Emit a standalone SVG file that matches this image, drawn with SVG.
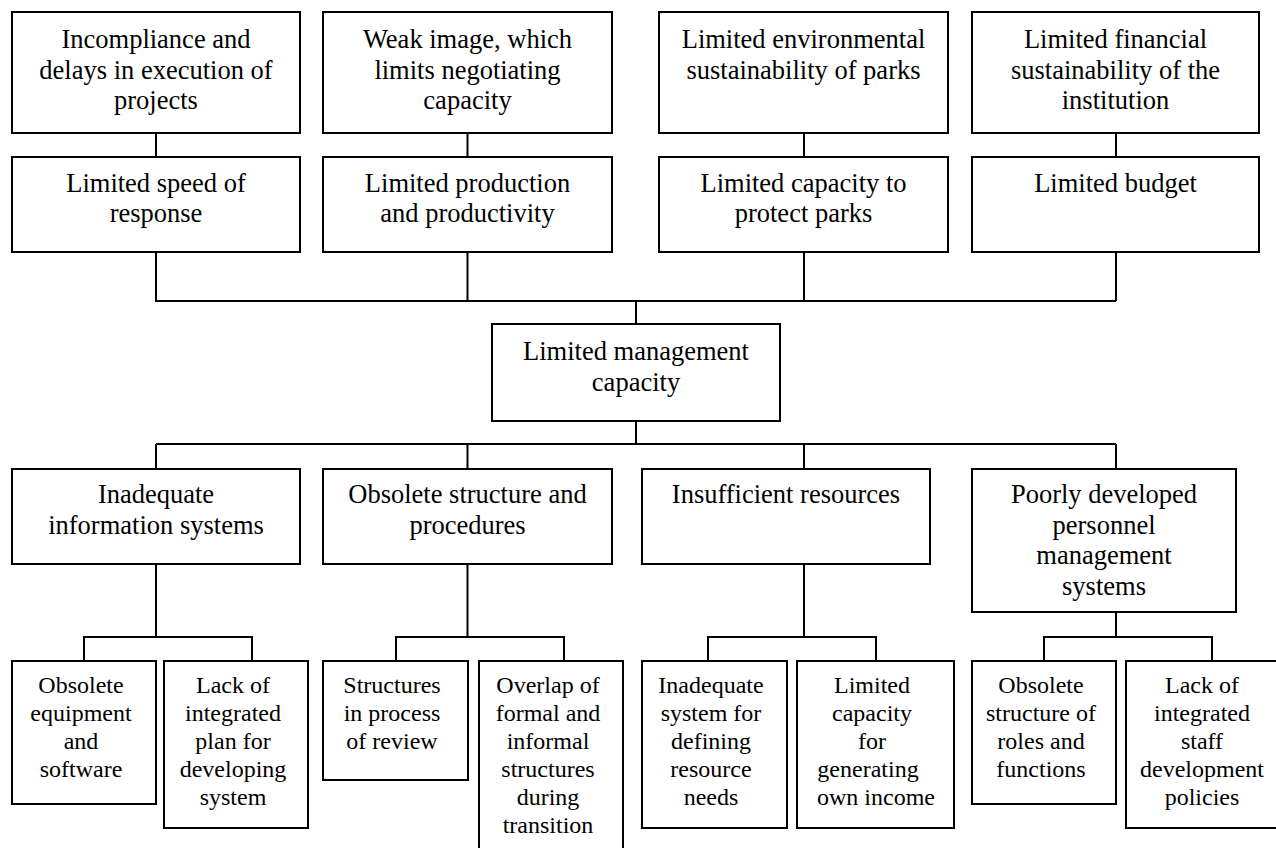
<svg xmlns="http://www.w3.org/2000/svg" width="1276" height="848" viewBox="0 0 1276 848">
<style>
rect{fill:#fff;stroke:#000;stroke-width:2}
#connectors path{fill:none;stroke:#000;stroke-width:2}
text{font-family:'Liberation Serif','Times New Roman','DejaVu Serif',serif;font-size:26.5px;fill:#000;text-anchor:middle}
text.s{font-size:24px}
</style>
<rect x="0" y="0" width="1276" height="848" style="stroke:none"/>
<g id="connectors">
<path d="M156 133V157M467.5 133V157M804 133V157M1116 133V157"/>
<path d="M156 252V301H1116M467.5 252V301M804 252V301M1116 252V301M636 301V324"/>
<path d="M636 421V444M156 444H1116M156 444V469M467.5 444V469M804 444V469M1116 444V469"/>
<path d="M156 564V637M84 661V637H252V661"/>
<path d="M467.5 564V637M396 661V637H564V661"/>
<path d="M804 564V637M708 661V637H876V661"/>
<path d="M1116 612V637M1044 661V637H1212V661"/>
</g>
<g font-family="Liberation Serif, DejaVu Serif, serif">
<g id="n1"><rect x="12" y="12" width="288" height="121"/><text x="156" y="48">Incompliance and</text><text x="156" y="78.5">delays in execution of</text><text x="156" y="109">projects</text></g>
<g id="n2"><rect x="323" y="12" width="289" height="121"/><text x="467.5" y="48">Weak image, which</text><text x="467.5" y="78.5">limits negotiating</text><text x="467.5" y="109">capacity</text></g>
<g id="n3"><rect x="659" y="12" width="289" height="121"/><text x="803.5" y="48">Limited environmental</text><text x="803.5" y="78.5">sustainability of parks</text></g>
<g id="n4"><rect x="972" y="12" width="287" height="121"/><text x="1115.5" y="48">Limited financial</text><text x="1115.5" y="78.5">sustainability of the</text><text x="1115.5" y="109">institution</text></g>
<g id="n5"><rect x="12" y="157" width="288" height="95"/><text x="156" y="191.5">Limited speed of</text><text x="156" y="222">response</text></g>
<g id="n6"><rect x="323" y="157" width="289" height="95"/><text x="467.5" y="191.5">Limited production</text><text x="467.5" y="222">and productivity</text></g>
<g id="n7"><rect x="659" y="157" width="289" height="95"/><text x="803.5" y="191.5">Limited capacity to</text><text x="803.5" y="222">protect parks</text></g>
<g id="n8"><rect x="972" y="157" width="287" height="95"/><text x="1115.5" y="191.5">Limited budget</text></g>
<g id="n9"><rect x="492" y="324" width="288" height="97"/><text x="636" y="360">Limited management</text><text x="636" y="390.5">capacity</text></g>
<g id="n10"><rect x="12" y="469" width="288" height="95"/><text x="156" y="503">Inadequate</text><text x="156" y="533.5">information systems</text></g>
<g id="n11"><rect x="323" y="469" width="289" height="95"/><text x="467.5" y="503">Obsolete structure and</text><text x="467.5" y="533.5">procedures</text></g>
<g id="n12"><rect x="642" y="469" width="288" height="95"/><text x="786" y="503">Insufficient resources</text></g>
<g id="n13"><rect x="972" y="469" width="264" height="143"/><text x="1104" y="503">Poorly developed</text><text x="1104" y="533.5">personnel</text><text x="1104" y="564">management</text><text x="1104" y="594.5">systems</text></g>
<g id="n14"><rect x="12" y="661" width="144" height="143"/><text class="s" x="81" y="693">Obsolete</text><text class="s" x="81" y="721">equipment</text><text class="s" x="81" y="749">and</text><text class="s" x="81" y="777">software</text></g>
<g id="n15"><rect x="164" y="661" width="144" height="167"/><text class="s" x="233" y="693">Lack of</text><text class="s" x="233" y="721">integrated</text><text class="s" x="233" y="749">plan for</text><text class="s" x="233" y="777">developing</text><text class="s" x="233" y="805">system</text></g>
<g id="n16"><rect x="323" y="661" width="145" height="119"/><text class="s" x="392" y="693">Structures</text><text class="s" x="392" y="721">in process</text><text class="s" x="392" y="749">of review</text></g>
<g id="n17"><rect x="479" y="661" width="144" height="200"/><text class="s" x="548" y="693">Overlap of</text><text class="s" x="548" y="721">formal and</text><text class="s" x="548" y="749">informal</text><text class="s" x="548" y="777">structures</text><text class="s" x="548" y="805">during</text><text class="s" x="548" y="833">transition</text></g>
<g id="n18"><rect x="642" y="661" width="145" height="167"/><text class="s" x="711" y="693">Inadequate</text><text class="s" x="711" y="721">system for</text><text class="s" x="711" y="749">defining</text><text class="s" x="711" y="777">resource</text><text class="s" x="711" y="805">needs</text></g>
<g id="n19"><rect x="797" y="661" width="157" height="167"/><text class="s" x="872" y="693">Limited</text><text class="s" x="872" y="721">capacity</text><text class="s" x="872" y="749">for</text><text class="s" x="868" y="777">generating</text><text class="s" x="876" y="805">own income</text></g>
<g id="n20"><rect x="972" y="661" width="144" height="143"/><text class="s" x="1041" y="693">Obsolete</text><text class="s" x="1041" y="721">structure of</text><text class="s" x="1041" y="749">roles and</text><text class="s" x="1041" y="777">functions</text></g>
<g id="n21"><rect x="1126" y="661" width="170" height="167"/><text class="s" x="1202" y="693">Lack of</text><text class="s" x="1202" y="721">integrated</text><text class="s" x="1202" y="749">staff</text><text class="s" x="1202" y="777">development</text><text class="s" x="1202" y="805">policies</text></g>
</g>
</svg>
